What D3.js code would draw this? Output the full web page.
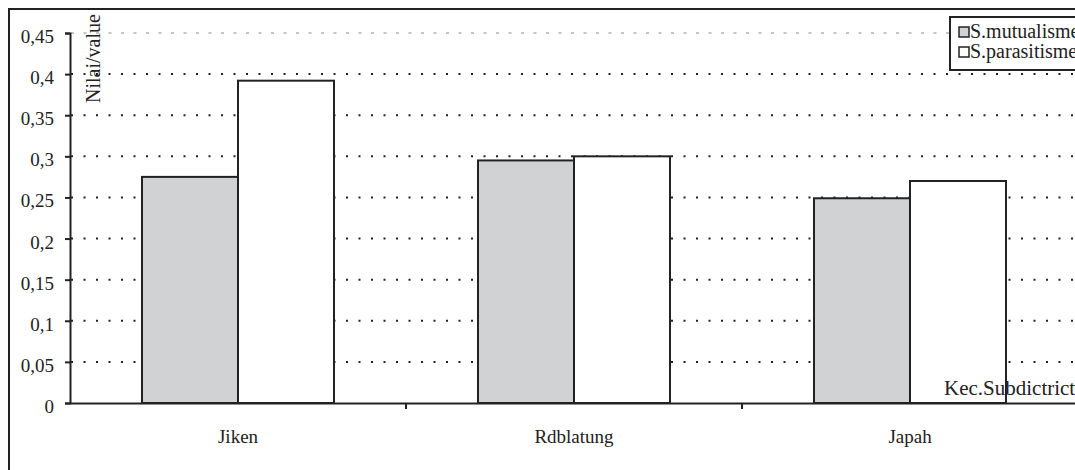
<!DOCTYPE html>
<html>
<head>
<meta charset="utf-8">
<script src="https://cdn.jsdelivr.net/npm/d3@7"></script>
<style>
  html, body { margin: 0; padding: 0; background: #fff; }
  svg { display: block; }
  text { font-family: "Liberation Serif", "Times New Roman", serif; fill: #222; }
</style>
</head>
<body>
<svg id="chart" width="1075" height="470"></svg>
<script>
// Data
const categories = ["Jiken", "Rdblatung", "Japah"];
const seriesNames = ["S.mutualisme", "S.parasitisme"];
const mutualisme = [0.275, 0.295, 0.249];
const parasitisme = [0.392, 0.300, 0.270];
const yTicks = [0, 0.05, 0.1, 0.15, 0.2, 0.25, 0.3, 0.35, 0.4, 0.45];
const seriesFill = ["#d1d2d4", "#ffffff"];

const svg = d3.select("#chart");
const ink = "#222";

// Outer chart frame
svg.append("rect")
  .attr("x", 9).attr("y", 9)
  .attr("width", 1100).attr("height", 480)
  .attr("fill", "none").attr("stroke", ink).attr("stroke-width", 2);

// Scales
const plot = { left: 70, right: 1078, top: 33, bottom: 403 };
const y = d3.scaleLinear().domain([0, 0.45]).range([plot.bottom, plot.top]);
const x0 = d3.scaleBand().domain(categories).range([plot.left, plot.right]).padding(0);
const barW = x0.bandwidth() / 3.5;
const x1 = d3.scaleBand().domain(seriesNames).range([0, barW * 2]).padding(0);

// Gridlines (dotted), topmost one lighter
const grid = svg.append("g");
yTicks.filter(t => t > 0).forEach(t => {
  const top = t === 0.45;
  grid.append("line")
    .attr("x1", plot.left + 1).attr("x2", plot.right)
    .attr("y1", y(t)).attr("y2", y(t))
    .attr("stroke", top ? "#c4c4c4" : ink)
    .attr("stroke-width", 2)
    .attr("stroke-dasharray", top ? "3 9.5" : "2 10.5");
});

// Bars
const rows = categories.map((c, i) => ({ cat: c, vals: [mutualisme[i], parasitisme[i]] }));
const groups = svg.append("g").selectAll("g").data(rows).join("g")
  .attr("transform", d => `translate(${x0(d.cat) + x0.bandwidth() / 2 - barW},0)`);
groups.selectAll("rect")
  .data(d => d.vals.map((v, j) => ({ name: seriesNames[j], v, j })))
  .join("rect")
  .attr("x", d => x1(d.name))
  .attr("y", d => y(d.v))
  .attr("width", x1.bandwidth())
  .attr("height", d => y(0) - y(d.v))
  .attr("fill", d => seriesFill[d.j])
  .attr("stroke", ink)
  .attr("stroke-width", 2);

// Y axis
const fmt = v => (v === 0 ? "0" : String(+v.toFixed(2)).replace(".", ","));
const yAxis = svg.append("g")
  .attr("transform", `translate(${plot.left},0)`)
  .call(d3.axisLeft(y).tickValues(yTicks).tickFormat(fmt).tickSize(5).tickPadding(11));
yAxis.select(".domain").attr("stroke", ink).attr("stroke-width", 2);
yAxis.selectAll(".tick line").attr("stroke", ink).attr("stroke-width", 2);
yAxis.selectAll(".tick text")
  .attr("font-family", "Liberation Serif, serif")
  .attr("font-size", 19).attr("fill", ink).attr("dy", "0.5em");

// X axis
const xAxis = svg.append("g")
  .attr("transform", `translate(0,${plot.bottom})`)
  .call(d3.axisBottom(x0).tickSize(0).tickPadding(0));
xAxis.select(".domain").attr("stroke", ink).attr("stroke-width", 2);
xAxis.selectAll(".tick text")
  .attr("font-family", "Liberation Serif, serif")
  .attr("font-size", 19).attr("fill", ink)
  .attr("y", 40).attr("dy", 0);
// Category separators below the axis
svg.append("g").selectAll("line")
  .data(categories.slice(1))
  .join("line")
  .attr("x1", d => x0(d)).attr("x2", d => x0(d))
  .attr("y1", plot.bottom).attr("y2", plot.bottom + 6)
  .attr("stroke", ink).attr("stroke-width", 2);

// Axis titles
svg.append("text")
  .attr("transform", "translate(100,103) rotate(-90)")
  .attr("font-size", 20)
  .text("Nilai/value");
svg.append("text")
  .attr("x", 944).attr("y", 395)
  .attr("font-size", 21)
  .text("Kec.Subdictrict");

// Legend
const legend = svg.append("g");
legend.append("rect")
  .attr("x", 950).attr("y", 17)
  .attr("width", 140).attr("height", 53)
  .attr("fill", "#fff").attr("stroke", ink).attr("stroke-width", 2);
seriesNames.forEach((name, i) => {
  const ly = 27 + i * 20;
  legend.append("rect")
    .attr("x", 959).attr("y", ly)
    .attr("width", 10).attr("height", 10)
    .attr("fill", seriesFill[i]).attr("stroke", ink).attr("stroke-width", 1.5);
  legend.append("text")
    .attr("x", 970).attr("y", ly + 11)
    .attr("font-size", 20)
    .text(name);
});
</script>
</body>
</html>
